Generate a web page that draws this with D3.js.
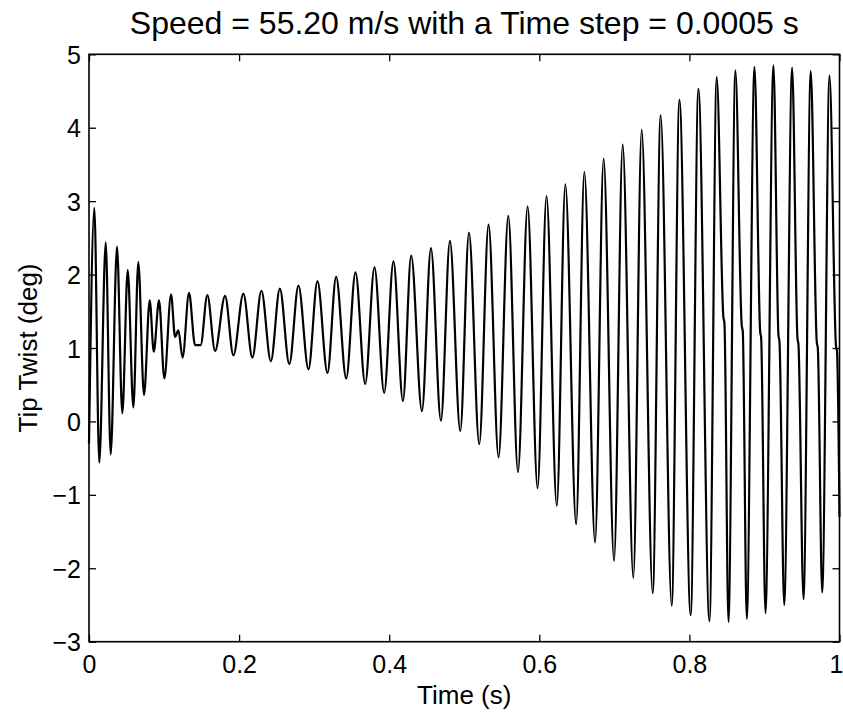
<!DOCTYPE html>
<html>
<head>
<meta charset="utf-8">
<script src="https://cdn.jsdelivr.net/npm/d3@7"></script>
<style>
    body { margin: 0; background: white; }
    text { font-family: "Liberation Sans", Arial, Helvetica, sans-serif; fill: black; }
</style>
</head>
<body>
<div id="chart"></div>
<script>
// Chart text
const titleText = 'Speed = 55.20 m/s with a Time step = 0.0005 s'
const xLabel = 'Time (s)'
const yLabel = 'Tip Twist (deg)'

// Tick values
const xTicks = [0, 0.2, 0.4, 0.6, 0.8, 1]
const yTicks = [-3, -2, -1, 0, 1, 2, 3, 4, 5]

// Turning points of the trace (s, deg)
const timeS = [
    0, 0.0071, 0.0137, 0.0223, 0.0289, 0.0373, 0.0444, 0.0516, 0.0591, 0.0657,
    0.0733, 0.0809, 0.0863, 0.0933, 0.1004, 0.1093, 0.1147, 0.1191, 0.1247, 0.1333,
    0.1413, 0.1487, 0.1577, 0.168, 0.1813, 0.1924, 0.2057, 0.2177, 0.2297, 0.2423,
    0.2543, 0.2669, 0.2791, 0.2924, 0.3044, 0.3177, 0.3293, 0.3427, 0.3551, 0.368,
    0.3804, 0.3933, 0.4057, 0.4183, 0.4293, 0.4436, 0.4556, 0.4689, 0.4809, 0.4947,
    0.5063, 0.52, 0.5324, 0.5457, 0.5587, 0.5716, 0.5844, 0.5977, 0.6096, 0.6233,
    0.6347, 0.6491, 0.66, 0.6743, 0.6857, 0.6996, 0.7111, 0.7253, 0.7364, 0.7511,
    0.7617, 0.7764, 0.7867, 0.8017, 0.812, 0.8267, 0.8364, 0.8453, 0.8467, 0.852,
    0.8613, 0.8697, 0.8711, 0.8764, 0.8867, 0.8943, 0.8956, 0.9013, 0.912, 0.9187,
    0.92, 0.9263, 0.9369, 0.944, 0.9453, 0.952, 0.9617, 0.9697, 0.9711, 0.9769,
    0.9867, 0.9953, 0.9967, 1
]
const twistDeg = [
    -0.3, 2.91, -0.56, 2.44, -0.45, 2.38, 0.11, 2.06, 0.19, 2.17,
    0.36, 1.65, 0.95, 1.65, 0.585, 1.73, 1.15, 1.24, 0.87, 1.75,
    1.04, 1.04, 1.72, 0.96, 1.71, 0.9, 1.74, 0.87, 1.78, 0.82,
    1.81, 0.78, 1.85, 0.71, 1.91, 0.66, 1.97, 0.585, 2.03, 0.51,
    2.10, 0.39, 2.18, 0.28, 2.26, 0.14, 2.36, 0.01, 2.46, -0.13,
    2.57, -0.31, 2.68, -0.49, 2.80, -0.69, 2.93, -0.91, 3.07, -1.15,
    3.23, -1.40, 3.40, -1.65, 3.58, -1.90, 3.77, -2.13, 3.97, -2.34,
    4.17, -2.51, 4.38, -2.64, 4.53, -2.72, 4.69, 1.42, 1.34, -2.73,
    4.78, 1.31, 1.23, -2.69, 4.83, 1.22, 1.14, -2.61, 4.85, 1.17,
    1.09, -2.50, 4.82, 1.13, 1.05, -2.42, 4.77, 1.08, 1.00, -2.33,
    4.71, 1.03, 0.95, -1.3
]

const width = 843
const height = 716
const margin = { top: 54.3, right: 3.5, bottom: 74.3, left: 89 }
const tickLen = 7

// SVG Root
const svg = d3.select('#chart')
    .append('svg')
    .attr('width', width)
    .attr('height', height)

const plotW = width - margin.left - margin.right
const plotH = height - margin.top - margin.bottom

const g = svg.append('g')
    .attr('transform', `translate(${margin.left}, ${margin.top})`)

// Scales
const xScale = d3.scaleLinear().domain([0, 1]).range([0, plotW])
const yScale = d3.scaleLinear().domain([-3, 5]).range([plotH, 0])

// Axes, ticks pointing inward on all four sides
const axisStyle = sel => {
    sel.select('.domain').remove()
    sel.selectAll('line').attr('stroke', 'black').attr('stroke-width', 1.3)
}

const xAxis = g.append('g')
    .attr('transform', `translate(0, ${plotH})`)
    .call(d3.axisBottom(xScale).tickValues(xTicks).tickSize(-tickLen).tickPadding(13.5)
        .tickFormat(d => d === 0 || d === 1 ? d3.format('d')(d) : d3.format('.1f')(d)))
    .call(axisStyle)

xAxis.selectAll('text')
    .attr('font-size', 25)

// last label sits on the window edge, keep it inside
xAxis.selectAll('text')
    .filter(d => d === 1)
    .attr('text-anchor', 'end')
    .attr('dx', 3.5)

g.append('g')
    .call(d3.axisTop(xScale).tickValues(xTicks).tickSize(-tickLen).tickFormat(''))
    .call(axisStyle)

g.append('g')
    .call(d3.axisLeft(yScale).tickValues(yTicks).tickSize(-tickLen).tickPadding(8)
        .tickFormat(d => d < 0 ? '\u2212' + Math.abs(d) : d))
    .call(axisStyle)
    .selectAll('text')
    .attr('font-size', 25)
    .attr('dy', '0.36em')

g.append('g')
    .attr('transform', `translate(${plotW}, 0)`)
    .call(d3.axisRight(yScale).tickValues(yTicks).tickSize(-tickLen).tickFormat(''))
    .call(axisStyle)

// Frame
g.append('rect')
    .attr('width', plotW)
    .attr('height', plotH)
    .attr('fill', 'none')
    .attr('stroke', 'black')
    .attr('stroke-width', 1.6)

// Trace
const points = timeS.map((t, i) => ({ t: t, v: twistDeg[i] }))

const line = d3.line()
    .x(d => xScale(d.t))
    .y(d => yScale(d.v))
    .curve(d3.curveMonotoneX)

g.append('path')
    .datum(points)
    .attr('d', line)
    .attr('fill', 'none')
    .attr('stroke', 'black')
    .attr('stroke-width', 2.2)
    .attr('stroke-linejoin', 'round')

// Title and labels
svg.append('text')
    .attr('x', margin.left + plotW / 2)
    .attr('y', 34)
    .attr('text-anchor', 'middle')
    .attr('font-size', 32)
    .text(titleText)

svg.append('text')
    .attr('x', margin.left + plotW / 2)
    .attr('y', 704)
    .attr('text-anchor', 'middle')
    .attr('font-size', 26)
    .text(xLabel)

svg.append('text')
    .attr('transform', `translate(37, ${margin.top + plotH / 2}) rotate(-90)`)
    .attr('text-anchor', 'middle')
    .attr('font-size', 26)
    .text(yLabel)
</script>
</body>
</html>
